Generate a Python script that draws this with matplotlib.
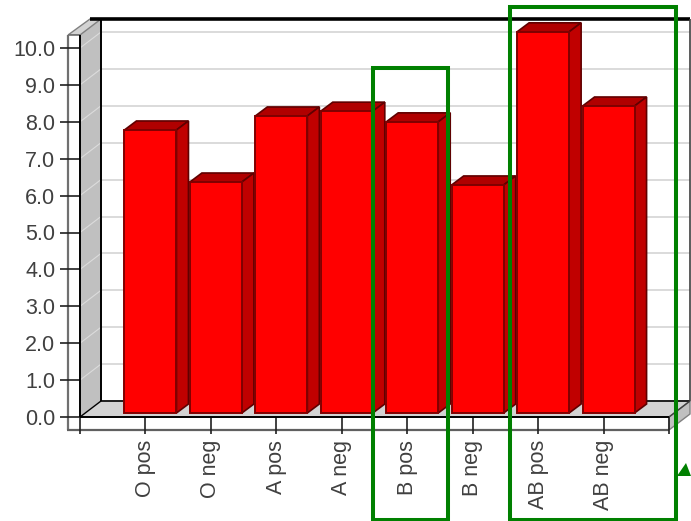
import matplotlib
matplotlib.use("Agg")
import matplotlib.pyplot as plt
from matplotlib.patches import Polygon, Rectangle
from matplotlib.transforms import IdentityTransform

categories = ["O pos", "O neg", "A pos", "A neg", "B pos", "B neg", "AB pos", "AB neg"]
values = [7.67, 6.26, 8.05, 8.18, 7.89, 6.18, 10.33, 8.32]
y_ticks = [0.0, 1.0, 2.0, 3.0, 4.0, 5.0, 6.0, 7.0, 8.0, 9.0, 10.0]

W, H = 691, 521
WALL_DX, WALL_DY = 21, 16
BAR_FRONT = (5, 4)
BAR_BACK = (17, 13)
BAR_W = 0.795

plt.rcParams["font.family"] = ["Liberation Sans", "DejaVu Sans"]
fig = plt.figure(figsize=(W / 100, H / 100), dpi=100)

ax = fig.add_axes([80 / W, (H - 417) / H, 589 / W, 382 / H])
ax.set_xlim(0, 9)
ax.set_ylim(0, 382 / 36.9)
ax.patch.set_visible(False)
ax.set_axisbelow(False)
for s in ax.spines.values():
    s.set_visible(False)


def shifted(x, y, off=(0, 0)):
    # data point moved by a pixel offset, for the fake 3d depth
    px, py = ax.transData.transform((x, y))
    return (px + off[0], py + off[1])


def add_poly(pts, color, edge="none", lw=1.0, z=1):
    p = Polygon(pts, closed=True, facecolor=color, edgecolor=edge, linewidth=lw,
                transform=IdentityTransform(), zorder=z, clip_on=False)
    ax.add_patch(p)


def add_line(a, b, color, lw=1.0, z=2):
    ax.plot([a[0], b[0]], [a[1], b[1]], color=color, lw=lw, transform=IdentityTransform(),
            zorder=z, clip_on=False, solid_capstyle="butt")


back = (WALL_DX, WALL_DY)
x0, x1 = ax.get_xlim()
y0, y1 = ax.get_ylim()

# floor and left wall
add_poly([shifted(x0, y0), shifted(x1, y0), shifted(x1, y0, back), shifted(x0, y0, back)], "#d3d3d3", z=1)
add_poly([shifted(x0, y0), shifted(x0, y0, back), shifted(x0, y1, back), shifted(x0, y1)], "#c0c0c0", z=1)

# gridlines on the back wall, faint white ones across the side wall
for v in y_ticks:
    add_line(shifted(x0, v, back), shifted(x1, v, back), "#d4d4d4", 1.2, z=1.5)
    add_line(shifted(x0, v), shifted(x0, v, back), "#dcdcdc", 0.8, z=1.5)

# back wall outline
add_line(shifted(x0, y0, back), shifted(x0, y1, back), "black", 1.4)
add_line(shifted(x0, y0, back), shifted(x1, y0, back), "black", 1.2)
add_line(shifted(x0, y1, (10, WALL_DY)), shifted(x1, y1, back), "black", 2.6)
add_line(shifted(x1, y0, back), shifted(x1, y1, back), "#404040", 1.2)
add_line(shifted(x0, y0), shifted(x0, y0, back), "black", 1.0)
add_line(shifted(x1, y0), shifted(x1, y0, back), "#404040", 1.0)

# outer frame: white strip on the left and below the floor
add_poly([shifted(x0, y1), shifted(x0, y1, back), shifted(x0, y1, (10, WALL_DY)), shifted(x0, y1, (-12, 0))],
         "#d3d3d3", edge="#808080", lw=1.0, z=1.6)
add_poly([shifted(x0, y0, (-12, -13)), shifted(x1, y0, (0, -13)), shifted(x1, y0), shifted(x0, y0),
          shifted(x0, y1), shifted(x0, y1, (-12, 0))], "white", z=1.6)
add_line(shifted(x0, y0, (-12, -13)), shifted(x0, y1, (-12, 0)), "#707070", 1.6, z=1.7)
add_line(shifted(x0, y1, (-12, 0)), shifted(x0, y1), "#707070", 1.2, z=1.7)
add_line(shifted(x0, y0, (-13, -13)), shifted(x1, y0, (0, -13)), "#606060", 1.6, z=1.7)
add_poly([shifted(x1, y0, (0, -13)), shifted(x1, y0), shifted(x1, y0, back), shifted(x1, y0, (WALL_DX, 3))],
         "#c0c0c0", edge="#808080", lw=1.0, z=1.6)

# bars
positions = list(range(1, len(categories) + 1))
for pos, val in zip(positions, values):
    left, right = pos - BAR_W / 2, pos + BAR_W / 2
    add_poly([shifted(left, val, BAR_FRONT), shifted(right, val, BAR_FRONT),
              shifted(right, val, BAR_BACK), shifted(left, val, BAR_BACK)],
             "#b00000", edge="#600000", lw=1.2, z=3)
    add_poly([shifted(right, 0, BAR_FRONT), shifted(right, 0, BAR_BACK),
              shifted(right, val, BAR_BACK), shifted(right, val, BAR_FRONT)],
             "#c00000", edge="#600000", lw=1.2, z=3)
    add_poly([shifted(left, 0, BAR_FRONT), shifted(right, 0, BAR_FRONT),
              shifted(right, val, BAR_FRONT), shifted(left, val, BAR_FRONT)],
             "#ff0000", edge="#800000", lw=1.4, z=3.1)

# axis lines and ticks
ax.set_yticks(y_ticks)
ax.set_yticklabels([f"{v:.1f}" for v in y_ticks])
ax.set_xticks([x0] + positions + [x1])
ax.set_xticklabels([""] + categories + [""], rotation=90)
ax.tick_params(axis="y", length=14.4, width=1.2, color="#202020", labelcolor="#404040",
               labelsize=15.5, pad=3.5)
ax.tick_params(axis="x", length=12, width=1.2, color="#202020", labelcolor="#404040",
               labelsize=15.5, pad=4.5)
add_line(shifted(x0, y0), shifted(x1, y0), "black", 1.4, z=4)
add_line(shifted(x0, y0), shifted(x0, y1), "black", 1.4, z=4)

# green highlight boxes and the little arrow head, drawn in pixel coordinates
overlay = fig.add_axes([0, 0, 1, 1])
overlay.set_xlim(0, W)
overlay.set_ylim(H, 0)
overlay.axis("off")
overlay.add_patch(Rectangle((373.5, 67.5), 75, 452, fill=False, edgecolor="#008000", linewidth=2.9))
overlay.add_patch(Rectangle((510, 7), 166.5, 512.5, fill=False, edgecolor="#008000", linewidth=2.9))
overlay.add_patch(Polygon([(677, 476), (691, 476), (686, 463)], closed=True, facecolor="#008000", edgecolor="none"))

fig.savefig("out.png", dpi=100)
